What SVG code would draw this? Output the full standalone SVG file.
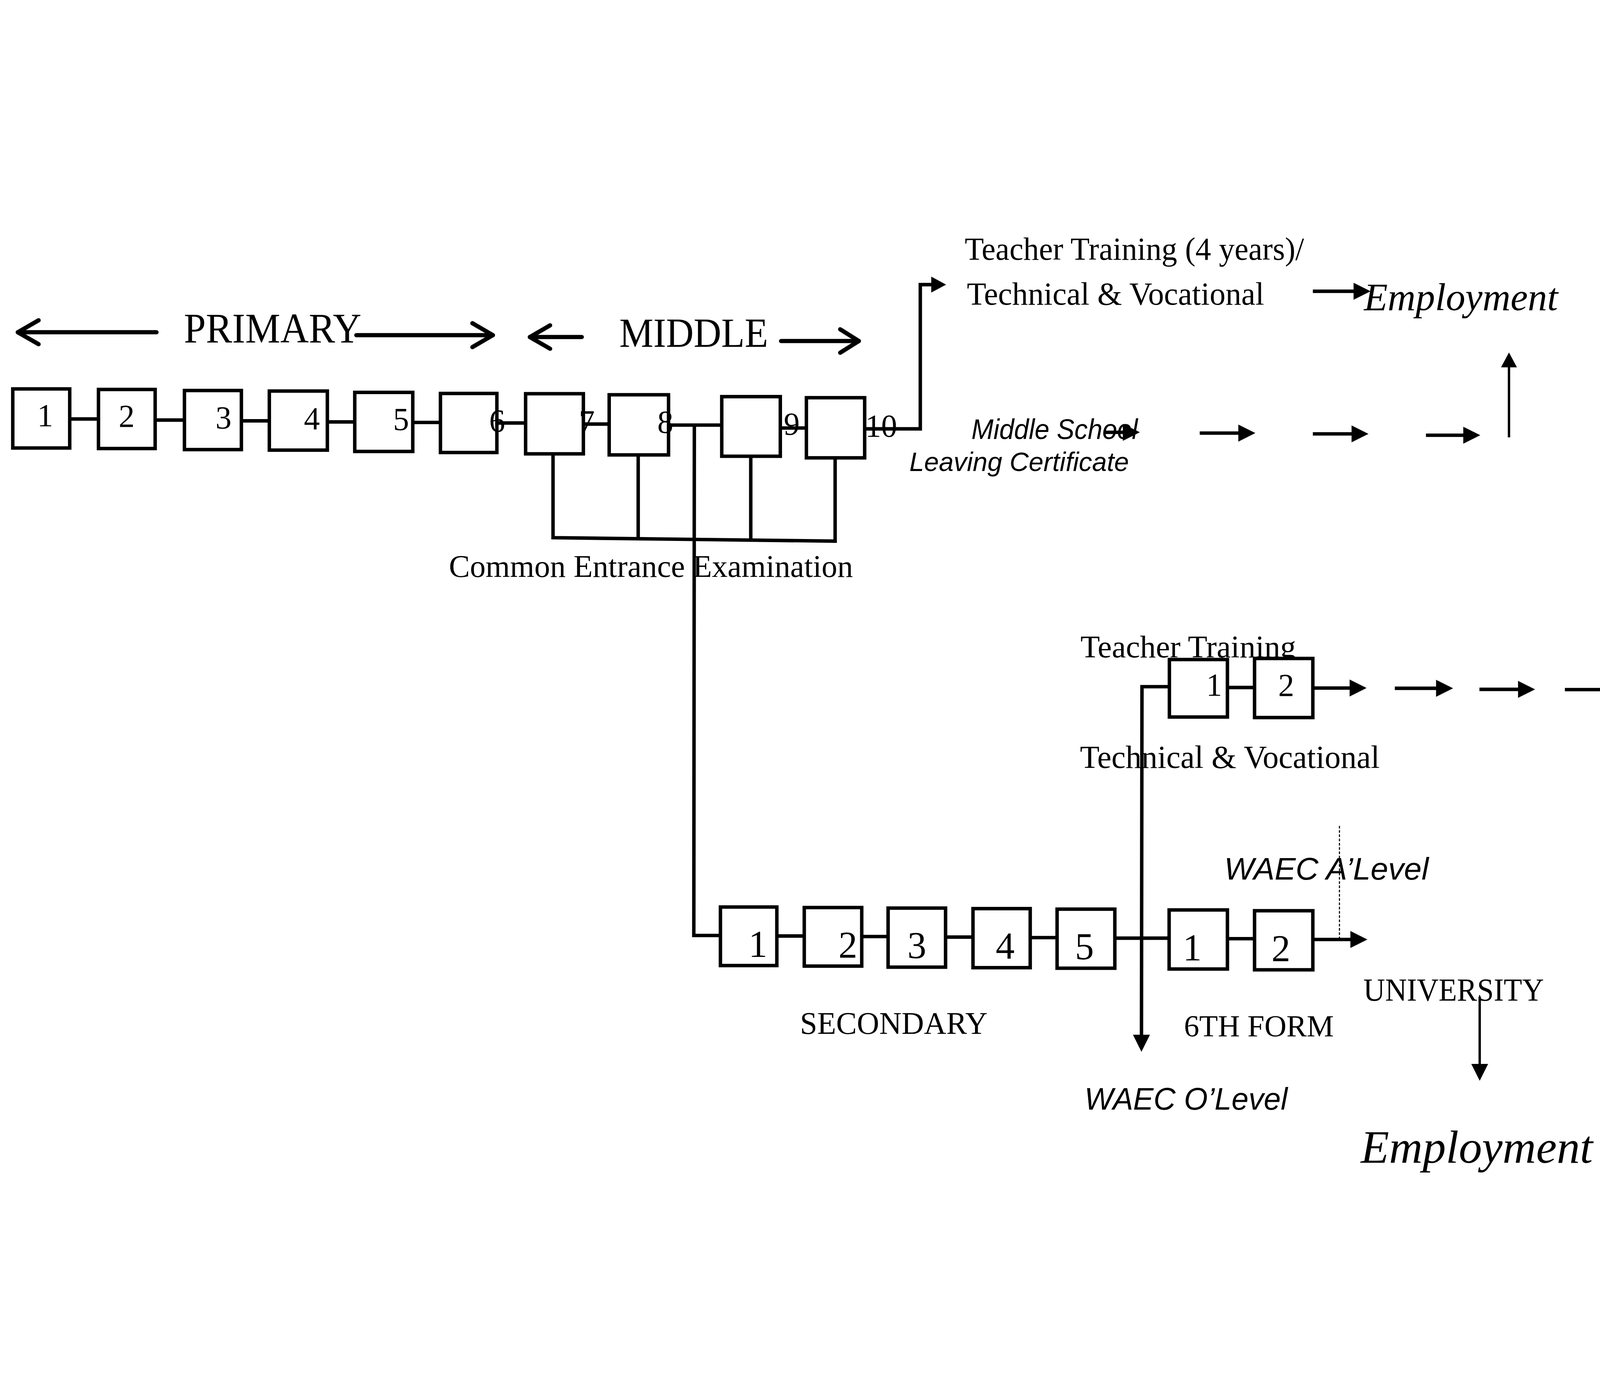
<svg xmlns="http://www.w3.org/2000/svg" width="6012" height="3564" viewBox="0 0 6012 3564">
<style>
svg:root{width:100vw;height:100vh}
.box{fill:#fff;stroke:#000;stroke-width:13}
.ln{fill:none;stroke:#000;stroke-width:13}
.thin{fill:none;stroke:#000;stroke-width:9}
.chev{fill:none;stroke:#000;stroke-width:16;stroke-linecap:round;stroke-linejoin:round}
.dot{fill:none;stroke:#000;stroke-width:4;stroke-dasharray:10 6}
.serif{font-family:"Liberation Serif","Times New Roman",serif;fill:#000}
.sans{font-family:"Liberation Sans",Arial,sans-serif;font-style:italic;fill:#000}
.num{font-family:"Liberation Serif","Times New Roman",serif;font-size:120px;text-anchor:middle;fill:#000}
.num2{font-family:"Liberation Serif","Times New Roman",serif;font-size:142px;text-anchor:middle;fill:#000}
</style>
<defs>
<marker id="ah" markerUnits="userSpaceOnUse" markerWidth="64" markerHeight="64" viewBox="0 0 64 64" refX="39" refY="32" orient="auto"><path d="M0,0 L64,32 L0,64 z" fill="#000"/></marker>
<marker id="ahs" markerUnits="userSpaceOnUse" markerWidth="56" markerHeight="60" viewBox="0 0 56 60" refX="31" refY="30" orient="auto"><path d="M0,0 L56,30 L0,60 z" fill="#000"/></marker>
</defs>
<rect x="0" y="0" width="6012" height="3564" fill="#fff"/>

<g id="connectors">
  <line class="ln" x1="262" y1="741" x2="370" y2="741"/>
  <line class="ln" x1="583" y1="745" x2="693" y2="745"/>
  <line class="ln" x1="907" y1="748" x2="1012" y2="748"/>
  <line class="ln" x1="1230" y1="752" x2="1333" y2="752"/>
  <line class="ln" x1="1551" y1="754" x2="1655" y2="754"/>
  <line class="ln" x1="1867" y1="756" x2="1975" y2="756"/>
  <line class="ln" x1="2192" y1="760" x2="2289" y2="760"/>
  <line class="ln" x1="2512" y1="764" x2="2712" y2="764"/>
  <line class="ln" x1="2932" y1="775" x2="3030" y2="775"/>
  <polyline class="ln" points="3249,778 3458,778 3458,236 3530,236" marker-end="url(#ahs)"/>
  <polyline class="ln" points="2078,872 2078,1187 3138,1200 3138,887"/>
  <line class="ln" x1="2398" y1="876" x2="2398" y2="1191"/>
  <line class="ln" x1="2821" y1="881" x2="2821" y2="1196"/>
  <polyline class="ln" points="2609,764 2607,2682 2707,2682"/>
  <line class="ln" x1="2919" y1="2684" x2="3022" y2="2684"/>
  <line class="ln" x1="3238" y1="2686" x2="3337" y2="2686"/>
  <line class="ln" x1="3553" y1="2688" x2="3656" y2="2688"/>
  <line class="ln" x1="3871" y1="2690" x2="3972" y2="2690"/>
  <line class="ln" x1="4189" y1="2692" x2="4393" y2="2692"/>
  <line class="ln" x1="4612" y1="2694" x2="4714" y2="2694"/>
  <line class="ln" x1="4933" y1="2697" x2="5113" y2="2697" marker-end="url(#ah)"/>
  <line class="dot" x1="5033" y1="2270" x2="5033" y2="2697"/>
  <polyline class="ln" points="4394,1747 4291,1747 4289,3094" marker-end="url(#ah)"/>
  <line class="ln" x1="4612" y1="1750" x2="4714" y2="1750"/>
  <line class="ln" x1="4933" y1="1752" x2="5110" y2="1752" marker-end="url(#ah)"/>
  <line class="ln" x1="5241" y1="1753" x2="5435" y2="1753" marker-end="url(#ah)"/>
  <line class="ln" x1="5559" y1="1757" x2="5743" y2="1757" marker-end="url(#ah)"/>
  <line class="ln" x1="5880" y1="1758" x2="6012" y2="1758"/>
  <line class="ln" x1="4150" y1="791" x2="4258" y2="791" marker-end="url(#ah)"/>
  <line class="ln" x1="4508" y1="794" x2="4692" y2="794" marker-end="url(#ah)"/>
  <line class="ln" x1="4933" y1="797" x2="5117" y2="797" marker-end="url(#ah)"/>
  <line class="ln" x1="5358" y1="802" x2="5537" y2="802" marker-end="url(#ah)"/>
  <line class="thin" x1="5670" y1="810" x2="5670" y2="516" marker-end="url(#ahs)"/>
  <line class="ln" x1="4933" y1="261" x2="5125" y2="261" marker-end="url(#ah)"/>
  <line class="thin" x1="5560" y1="2912" x2="5560" y2="3203" marker-end="url(#ah)"/>
</g>

<g id="label-primary">
  <line class="chev" x1="67" y1="415" x2="588" y2="415"/>
  <polyline class="chev" points="145,370 67,415 145,460"/>
  <text class="serif" x="691" y="453" font-size="158" textLength="667" lengthAdjust="spacingAndGlyphs">PRIMARY</text>
  <line class="chev" x1="1339" y1="426" x2="1852" y2="426"/>
  <polyline class="chev" points="1775,381 1852,426 1775,471"/>
</g>
<g id="label-middle">
  <line class="chev" x1="1991" y1="433" x2="2186" y2="433"/>
  <polyline class="chev" points="2067,389 1991,433 2067,477"/>
  <text class="serif" x="2327" y="470" font-size="156" textLength="559" lengthAdjust="spacingAndGlyphs">MIDDLE</text>
  <line class="chev" x1="2935" y1="448" x2="3227" y2="448"/>
  <polyline class="chev" points="3157,404 3227,448 3157,492"/>
</g>

<g id="p1"><rect class="box" x="48" y="628" width="214" height="222"/><text class="num" x="170" y="768">1</text></g>
<g id="p2"><rect class="box" x="370" y="630" width="213" height="222"/><text class="num" x="476" y="770">2</text></g>
<g id="p3"><rect class="box" x="693" y="634" width="214" height="222"/><text class="num" x="840" y="776">3</text></g>
<g id="p4"><rect class="box" x="1012" y="636" width="218" height="222"/><text class="num" x="1172" y="779">4</text></g>
<g id="p5"><rect class="box" x="1333" y="641" width="218" height="222"/><text class="num" x="1507" y="783">5</text></g>
<g id="p6"><rect class="box" x="1655" y="645" width="212" height="222"/><text class="num" x="1868" y="788">6</text></g>
<g id="p7"><rect class="box" x="1975" y="646" width="217" height="226"/><text class="num" x="2205" y="792">7</text></g>
<g id="p8"><rect class="box" x="2289" y="650" width="223" height="226"/><text class="num" x="2500" y="793">8</text></g>
<g id="p9"><rect class="box" x="2712" y="657" width="220" height="224"/><text class="num" x="2975" y="800">9</text></g>
<g id="p10"><rect class="box" x="3030" y="661" width="219" height="226"/><text class="num" x="3311" y="808">10</text></g>

<g id="label-common-entrance"><text class="serif" x="1687" y="1335" font-size="118" textLength="1518" lengthAdjust="spacingAndGlyphs">Common Entrance Examination</text></g>

<g id="label-tt4">
  <text class="serif" x="3625" y="143" font-size="120" textLength="1275" lengthAdjust="spacingAndGlyphs">Teacher Training (4 years)/</text>
  <text class="serif" x="3633" y="312" font-size="120" textLength="1117" lengthAdjust="spacingAndGlyphs">Technical &amp; Vocational</text>
</g>
<g id="label-employment-top"><text class="serif" x="5125" y="332" font-size="145" font-style="italic" textLength="729" lengthAdjust="spacingAndGlyphs">Employment</text></g>
<g id="label-mslc">
  <text class="sans" x="3650" y="816" font-size="105" textLength="625" lengthAdjust="spacingAndGlyphs">Middle School</text>
  <text class="sans" x="3417" y="937" font-size="100" textLength="825" lengthAdjust="spacingAndGlyphs">Leaving Certificate</text>
</g>

<g id="label-teacher-training"><text class="serif" x="4060" y="1637" font-size="118" textLength="810" lengthAdjust="spacingAndGlyphs">Teacher Training</text></g>
<g id="t1"><rect class="box" x="4394" y="1645" width="218" height="216"/><text class="num" x="4562" y="1780">1</text></g>
<g id="t2"><rect class="box" x="4714" y="1641" width="219" height="222"/><text class="num" x="4833" y="1782">2</text></g>
<g id="label-tech-voc"><text class="serif" x="4058" y="2052" font-size="120" textLength="1126" lengthAdjust="spacingAndGlyphs">Technical &amp; Vocational</text></g>
<g id="label-waec-a"><text class="sans" x="4600" y="2472" font-size="118" textLength="768" lengthAdjust="spacingAndGlyphs">WAEC A’Level</text></g>

<g id="s1"><rect class="box" x="2707" y="2575" width="212" height="220"/><text class="num2" x="2848" y="2762">1</text></g>
<g id="s2"><rect class="box" x="3022" y="2577" width="216" height="220"/><text class="num2" x="3186" y="2765">2</text></g>
<g id="s3"><rect class="box" x="3337" y="2579" width="216" height="222"/><text class="num2" x="3445" y="2767">3</text></g>
<g id="s4"><rect class="box" x="3656" y="2581" width="215" height="222"/><text class="num2" x="3777" y="2769">4</text></g>
<g id="s5"><rect class="box" x="3972" y="2583" width="217" height="222"/><text class="num2" x="4075" y="2772">5</text></g>
<g id="f1"><rect class="box" x="4393" y="2586" width="219" height="222"/><text class="num2" x="4480" y="2775">1</text></g>
<g id="f2"><rect class="box" x="4714" y="2589" width="219" height="222"/><text class="num2" x="4813" y="2778">2</text></g>

<g id="label-secondary"><text class="serif" x="3006" y="3052" font-size="118" textLength="705" lengthAdjust="spacingAndGlyphs">SECONDARY</text></g>
<g id="label-6th-form"><text class="serif" x="4449" y="3060" font-size="116" textLength="563" lengthAdjust="spacingAndGlyphs">6TH FORM</text></g>
<g id="label-waec-o"><text class="sans" x="4075" y="3337" font-size="116" textLength="763" lengthAdjust="spacingAndGlyphs">WAEC O’Level</text></g>
<g id="label-university"><text class="serif" x="5123" y="2927" font-size="122" textLength="678" lengthAdjust="spacingAndGlyphs">UNIVERSITY</text></g>
<g id="label-employment-bottom"><text class="serif" x="5113" y="3536" font-size="175" font-style="italic" textLength="872" lengthAdjust="spacingAndGlyphs">Employment</text></g>
</svg>
